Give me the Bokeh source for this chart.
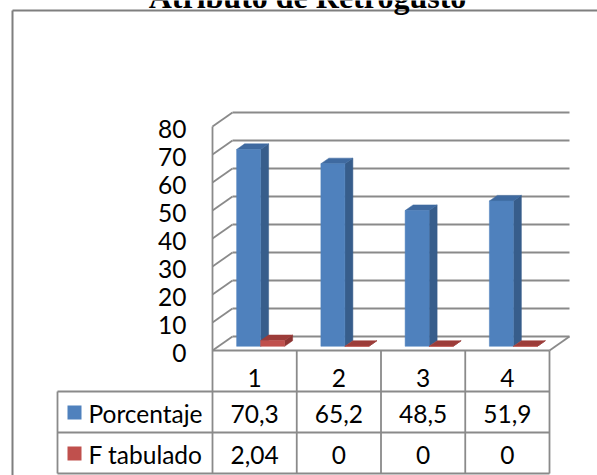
from bokeh.plotting import figure
from bokeh.models import Range1d
from bokeh.core.properties import value
from bokeh.embed import file_html
from bokeh.resources import INLINE

# ---- data ----
title_text = "Atributo de Retrogusto"
categories = ["1", "2", "3", "4"]
series_names = ["Porcentaje", "F tabulado"]
porcentaje = [70.3, 65.2, 48.5, 51.9]
f_tabulado = [2.04, 0, 0, 0]
y_ticks = [0, 10, 20, 30, 40, 50, 60, 70, 80]

# ---- layout (pixels) ----
W, H = 597, 475
AXIS_X_PX = 212        # left edge of the category axis
CAT_PX = 84.25         # width of one category
ZERO_Y_PX = 350        # front floor line (value 0)
UNIT_PX = 2.8          # pixels per value unit
DEPTH_X_PX, DEPTH_Y_PX = 20, 14
BAR_PX = 24

def cx(px):
    """pixel column -> data x"""
    return (px - AXIS_X_PX) / CAT_PX

def cy(py):
    """pixel row -> data y"""
    return (ZERO_Y_PX - py) / UNIT_PX

DX = DEPTH_X_PX / CAT_PX
DY = DEPTH_Y_PX / UNIT_PX
BAR_W = BAR_PX / CAT_PX
N = len(categories)
YMAX = y_ticks[-1]

p = figure(width=W, height=H, output_backend="svg", toolbar_location=None,
           x_range=Range1d(cx(0), cx(W)), y_range=Range1d(cy(H), cy(0)),
           x_axis_location=None, y_axis_location=None, min_border=0)
p.grid.visible = False
p.outline_line_color = None
p.background_fill_color = "white"
p.border_fill_color = "white"

GRID = "#8a8a8a"
FONT = value("Lato")
FS = "24.5px"

# outer chart border
p.segment(x0=[cx(12), cx(12)], y0=[cy(10), cy(10)], x1=[cx(12), cx(W)], y1=[cy(H), cy(10)],
          line_color="#7f7f7f", line_width=2)

# title (sits above the chart border, partly outside the page)
p.text(x=[cx(307)], y=[cy(-4)], text=[title_text], text_font=value("Liberation Serif"),
       text_font_style="bold", text_font_size="32px", text_align="center",
       text_baseline="alphabetic", text_color="black")

# back wall gridlines and left wall diagonals
p.segment(x0=[DX] * len(y_ticks), y0=[t + DY for t in y_ticks],
          x1=[N + DX] * len(y_ticks), y1=[t + DY for t in y_ticks],
          line_color=GRID, line_width=1.8)
p.segment(x0=[0] * len(y_ticks), y0=y_ticks, x1=[DX] * len(y_ticks),
          y1=[t + DY for t in y_ticks], line_color=GRID, line_width=1.8)
# front vertical axis (continues as table border), floor edges
p.segment(x0=[0, 0, N], y0=[YMAX, 0, 0], x1=[0, N, N + DX], y1=[cy(473), 0, DY],
          line_color=GRID, line_width=1.8)

# y tick labels
p.text(x=[cx(186)] * len(y_ticks), y=[t - 2 / UNIT_PX for t in y_ticks],
       text=[str(t) for t in y_ticks], text_font=FONT, text_font_size=FS,
       text_align="right", text_baseline="middle", text_color="black")

# 3D bars
FRONT = 0.3   # depth fraction where the bar's front face sits
DEPTH = 0.4   # bar depth as fraction of the floor depth
gap = (1 - 2 * BAR_W) / 2
styles = [("#4f81bd", "#375d8b", "#3f6aa0"), ("#c0504d", "#8c3432", "#9c3c39")]
for s, vals in enumerate([porcentaje, f_tabulado]):
    front_c, side_c, top_c = styles[s]
    fx, fy, sx, sy, tx, ty = [], [], [], [], [], []
    for i, v in enumerate(vals):
        x0 = i + gap + s * BAR_W + FRONT * DX
        x1 = x0 + BAR_W
        b = FRONT * DY
        t = b + v
        ddx, ddy = DEPTH * DX, DEPTH * DY
        fx.append([x0, x1, x1, x0]); fy.append([b, b, t, t])
        sx.append([x1, x1 + ddx, x1 + ddx, x1]); sy.append([b, b + ddy, t + ddy, t])
        tx.append([x0, x1, x1 + ddx, x0 + ddx]); ty.append([t, t, t + ddy, t + ddy])
    p.patches(xs=sx, ys=sy, fill_color=side_c, line_color=side_c, line_width=0.5)
    p.patches(xs=tx, ys=ty, fill_color=top_c, line_color=top_c, line_width=0.5)
    p.patches(xs=fx, ys=fy, fill_color=front_c, line_color=front_c, line_width=0.5)

# data table below the plot
row_lines_px = [391, 432, 473]
p.segment(x0=[cx(57)] * 3, y0=[cy(r) for r in row_lines_px],
          x1=[N] * 3, y1=[cy(r) for r in row_lines_px], line_color=GRID, line_width=1.8)
p.segment(x0=[cx(57)] + list(range(1, N + 1)), y0=[cy(391)] + [0] * N,
          x1=[cx(57)] + list(range(1, N + 1)), y1=[cy(473)] * (N + 1),
          line_color=GRID, line_width=1.8)

centers = [i + 0.5 for i in range(N)]
p.text(x=centers, y=[cy(377)] * N, text=categories, text_font=FONT, text_font_size=FS,
       text_align="center", text_baseline="middle", text_color="black")

def fmt(v):
    return ("%g" % v).replace(".", ",")

for r, (name, vals, color) in enumerate(zip(series_names, [porcentaje, f_tabulado],
                                            [styles[0][0], styles[1][0]])):
    yc = [413, 454][r]
    p.text(x=centers, y=[cy(yc)] * N, text=[fmt(v) for v in vals], text_font=FONT,
           text_font_size=FS, text_align="center", text_baseline="middle",
           text_color="black")
    p.quad(left=[cx(67)], right=[cx(81)], top=[cy(yc - 8)], bottom=[cy(yc + 6)],
           fill_color=color, line_color=None)
    p.text(x=[cx(88)], y=[cy(yc)], text=[name], text_font=FONT, text_font_size=FS,
           text_align="left", text_baseline="middle", text_color="black")

open("out.html", "w").write(file_html(p, INLINE))
